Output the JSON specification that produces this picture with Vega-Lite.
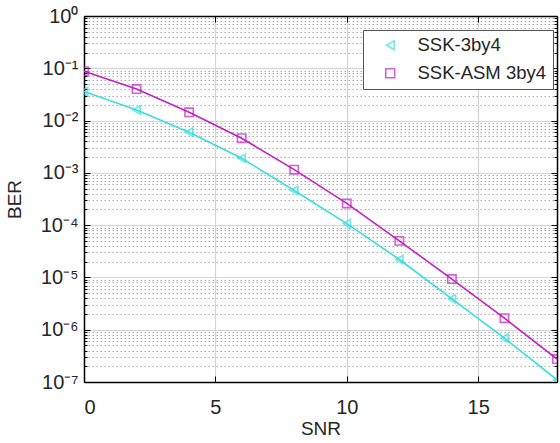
{
  "$schema": "https://vega.github.io/schema/vega-lite/v6.json",
  "width": 473,
  "height": 366,
  "autosize": "none",
  "padding": {"left": 84, "top": 16, "right": 3, "bottom": 61},
  "background": "white",
  "config": {
    "font": "Liberation Sans",
    "view": {"stroke": null},
    "axis": {"labelColor": "#262626", "titleColor": "#262626", "titleFontWeight": "normal", "domainColor": "#000000", "domainWidth": 1.5, "tickColor": "#000000"},
    "legend": {
      "orient": "none", "legendX": 279, "legendY": 14,
      "strokeColor": "#555555", "fillColor": "white", "padding": 6,
      "labelFontSize": 18.5, "labelColor": "#262626", "labelOffset": 18,
      "symbolSize": 80, "symbolOffset": 12, "rowPadding": 9,
      "symbolStrokeWidth": 1.5, "symbolFillColor": "transparent"
    }
  },
  "data": {
    "values": [
      {"series": "SSK-3by4", "SNR": 0, "BER": 0.036},
      {"series": "SSK-3by4", "SNR": 2, "BER": 0.016},
      {"series": "SSK-3by4", "SNR": 4, "BER": 0.006},
      {"series": "SSK-3by4", "SNR": 6, "BER": 0.0019},
      {"series": "SSK-3by4", "SNR": 8, "BER": 0.00046},
      {"series": "SSK-3by4", "SNR": 10, "BER": 0.000107},
      {"series": "SSK-3by4", "SNR": 12, "BER": 0.000022},
      {"series": "SSK-3by4", "SNR": 14, "BER": 0.0000039},
      {"series": "SSK-3by4", "SNR": 16, "BER": 0.00000069},
      {"series": "SSK-3by4", "SNR": 18, "BER": 0.00000011},
      {"series": "SSK-ASM 3by4", "SNR": 0, "BER": 0.088},
      {"series": "SSK-ASM 3by4", "SNR": 2, "BER": 0.040},
      {"series": "SSK-ASM 3by4", "SNR": 4, "BER": 0.0144},
      {"series": "SSK-ASM 3by4", "SNR": 6, "BER": 0.0046},
      {"series": "SSK-ASM 3by4", "SNR": 8, "BER": 0.00115},
      {"series": "SSK-ASM 3by4", "SNR": 10, "BER": 0.00026},
      {"series": "SSK-ASM 3by4", "SNR": 12, "BER": 0.00005},
      {"series": "SSK-ASM 3by4", "SNR": 14, "BER": 0.0000093},
      {"series": "SSK-ASM 3by4", "SNR": 16, "BER": 0.00000166},
      {"series": "SSK-ASM 3by4", "SNR": 18, "BER": 0.000000275}
    ]
  },
  "resolve": {"axis": {"x": "independent", "y": "independent"}},
  "layer": [
    {
      "mark": {"type": "line", "strokeWidth": 1.6, "clip": true},
      "encoding": {
        "x": {
          "field": "SNR", "type": "quantitative",
          "scale": {"domain": [0, 18], "nice": false, "zero": false},
          "axis": {
            "orient": "bottom", "values": [0, 5, 10, 15], "title": "SNR",
            "grid": true, "gridColor": "#d4d4d4", "gridWidth": 1.2,
            "tickSize": -6, "labelFontSize": 20, "labelPadding": 21,
            "titleFontSize": 19, "titlePadding": 2
          }
        },
        "y": {
          "field": "BER", "type": "quantitative",
          "scale": {"type": "log", "domain": [1e-7, 1], "nice": false},
          "axis": {
            "orient": "left", "title": "BER", "titleFontSize": 19, "titlePadding": 16,
            "values": [1e-7, 2e-7, 3e-7, 4e-7, 5e-7, 6e-7, 7e-7, 8e-7, 9e-7,
                       1e-6, 2e-6, 3e-6, 4e-6, 5e-6, 6e-6, 7e-6, 8e-6, 9e-6,
                       1e-5, 2e-5, 3e-5, 4e-5, 5e-5, 6e-5, 7e-5, 8e-5, 9e-5,
                       1e-4, 2e-4, 3e-4, 4e-4, 5e-4, 6e-4, 7e-4, 8e-4, 9e-4,
                       1e-3, 2e-3, 3e-3, 4e-3, 5e-3, 6e-3, 7e-3, 8e-3, 9e-3,
                       1e-2, 2e-2, 3e-2, 4e-2, 5e-2, 6e-2, 7e-2, 8e-2, 9e-2,
                       1e-1, 2e-1, 3e-1, 4e-1, 5e-1, 6e-1, 7e-1, 8e-1, 9e-1, 1],
            "labelExpr": "abs(log(datum.value)/LN10 - round(log(datum.value)/LN10)) < 0.001 ? (round(log(datum.value)/LN10) === 0 ? '10⁰' : '10⁻' + substring('¹²³⁴⁵⁶⁷', -round(log(datum.value)/LN10) - 1, -round(log(datum.value)/LN10))) : ''",
            "labelFontSize": 20, "labelPadding": 12,
            "grid": true,
            "gridDash": {"condition": {"test": "abs(log(datum.value)/LN10 - round(log(datum.value)/LN10)) < 0.001", "value": []}, "value": [1.5, 2.5]},
            "gridColor": {"condition": {"test": "abs(log(datum.value)/LN10 - round(log(datum.value)/LN10)) < 0.001", "value": "#d4d4d4"}, "value": "#ababab"},
            "gridWidth": {"condition": {"test": "abs(log(datum.value)/LN10 - round(log(datum.value)/LN10)) < 0.001", "value": 1.2}, "value": 1},
            "tickSize": {"condition": {"test": "abs(log(datum.value)/LN10 - round(log(datum.value)/LN10)) < 0.001", "value": -6}, "value": -3}
          }
        },
        "color": {
          "field": "series", "type": "nominal",
          "scale": {"domain": ["SSK-3by4", "SSK-ASM 3by4"], "range": ["#36dede", "#c41ec4"]},
          "legend": {"title": null}
        }
      }
    },
    {
      "mark": {"type": "point", "filled": false, "size": 70, "strokeWidth": 1.6, "clip": true},
      "encoding": {
        "x": {
          "field": "SNR", "type": "quantitative",
          "axis": {"orient": "top", "values": [0, 5, 10, 15], "labels": false, "grid": false, "tickSize": -6, "title": null}
        },
        "y": {
          "field": "BER", "type": "quantitative",
          "axis": {
            "orient": "right", "labels": false, "grid": false, "title": null,
            "values": [1e-7, 2e-7, 3e-7, 4e-7, 5e-7, 6e-7, 7e-7, 8e-7, 9e-7,
                       1e-6, 2e-6, 3e-6, 4e-6, 5e-6, 6e-6, 7e-6, 8e-6, 9e-6,
                       1e-5, 2e-5, 3e-5, 4e-5, 5e-5, 6e-5, 7e-5, 8e-5, 9e-5,
                       1e-4, 2e-4, 3e-4, 4e-4, 5e-4, 6e-4, 7e-4, 8e-4, 9e-4,
                       1e-3, 2e-3, 3e-3, 4e-3, 5e-3, 6e-3, 7e-3, 8e-3, 9e-3,
                       1e-2, 2e-2, 3e-2, 4e-2, 5e-2, 6e-2, 7e-2, 8e-2, 9e-2,
                       1e-1, 2e-1, 3e-1, 4e-1, 5e-1, 6e-1, 7e-1, 8e-1, 9e-1, 1],
            "tickSize": {"condition": {"test": "abs(log(datum.value)/LN10 - round(log(datum.value)/LN10)) < 0.001", "value": -6}, "value": -3}
          }
        },
        "color": {"field": "series", "type": "nominal", "legend": {"title": null}},
        "shape": {
          "field": "series", "type": "nominal",
          "scale": {"domain": ["SSK-3by4", "SSK-ASM 3by4"], "range": ["triangle-left", "square"]},
          "legend": {"title": null}
        }
      }
    }
  ]
}
